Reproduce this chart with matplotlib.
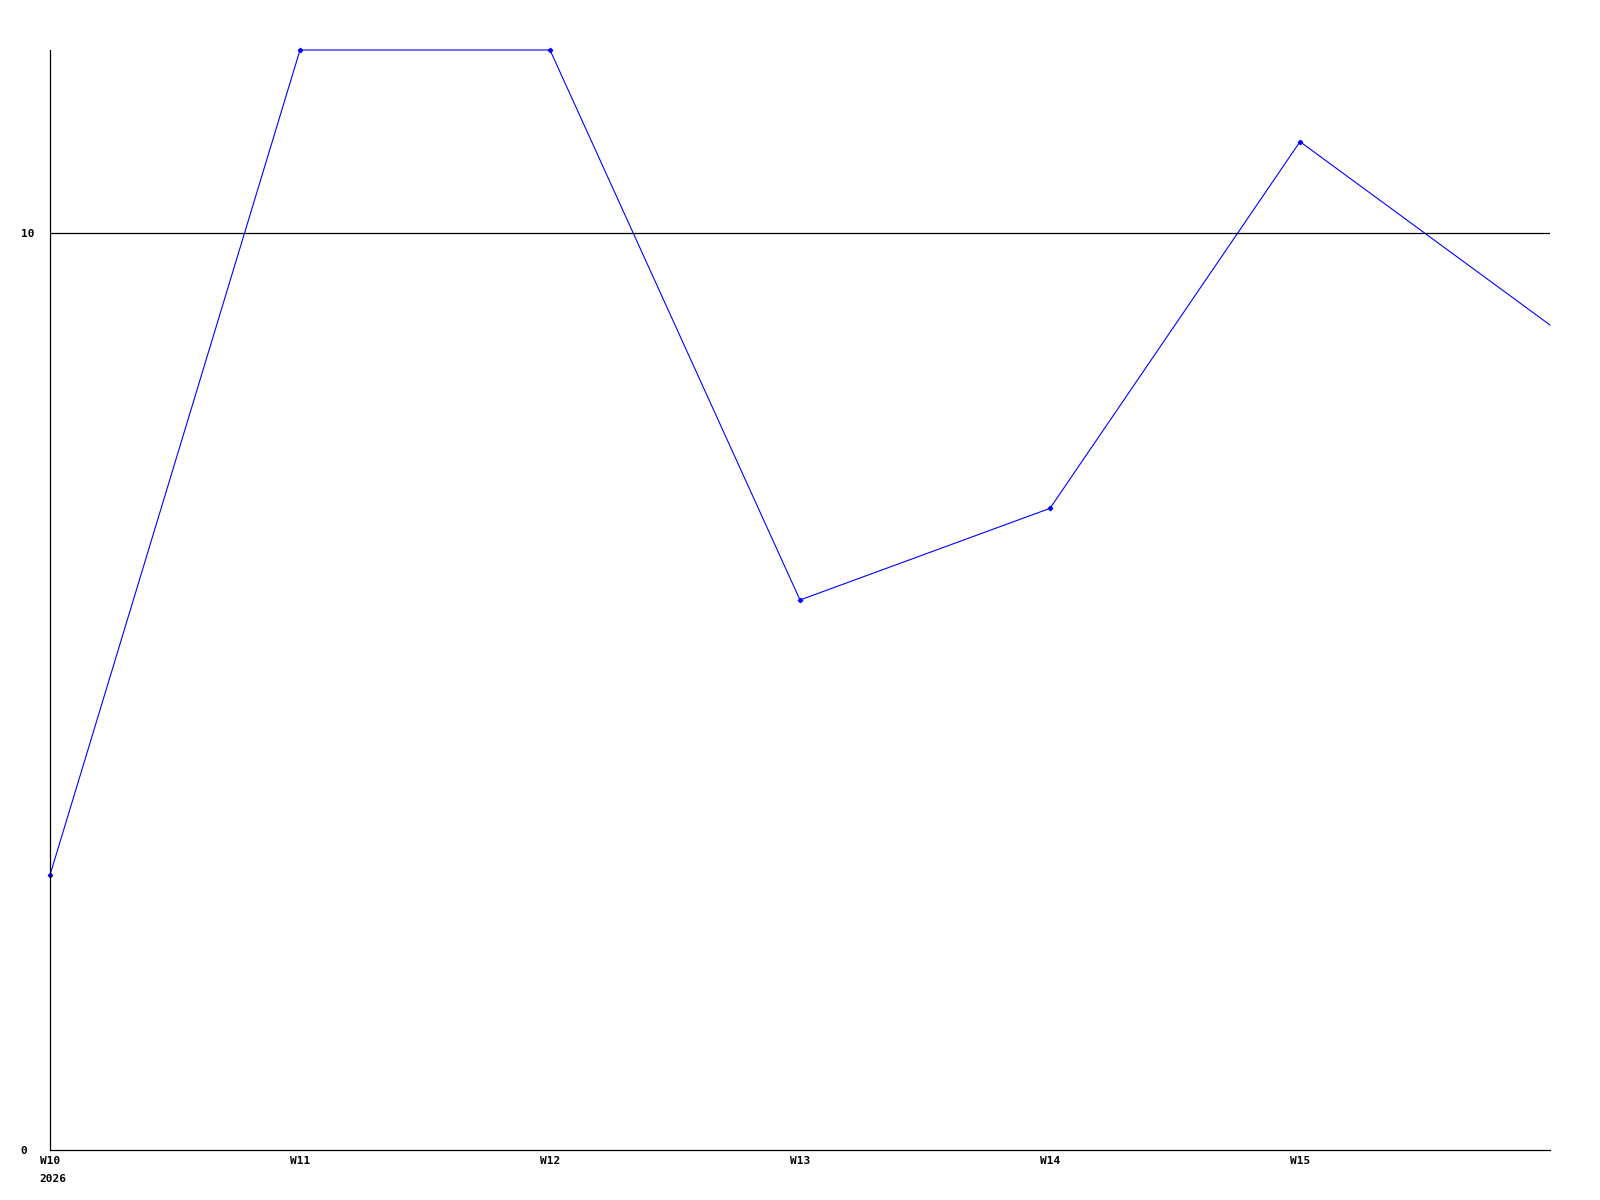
import matplotlib
matplotlib.use('Agg')
import matplotlib.pyplot as plt

weeks = ['W10', 'W11', 'W12', 'W13', 'W14', 'W15', 'W16']
values = [3, 12, 12, 6, 7, 11, 9]
year_label = '2026'
ref_value = 10

fig = plt.figure(figsize=(16, 12), dpi=100)
ax = fig.add_axes([50 / 1600, 50 / 1200, 1500 / 1600, 1100 / 1200])

x = list(range(len(weeks)))
# line runs to the right edge, the last point has no marker
ax.plot(x, values, color='#0000ff', lw=0.8, clip_on=False)
ax.plot(x[:-1], values[:-1], ls='none', color='#0000ff', marker='D', ms=2.2,
        clip_on=False)
ax.axhline(ref_value, color='black', lw=0.9)

ax.set_xlim(0, len(weeks) - 1)
ax.set_ylim(0, 12)

font = dict(family='DejaVu Sans Mono', weight='bold', size=8)
ax.set_xticks(x[:-1])
ax.set_xticklabels(weeks[:-1], **font)
ax.set_yticks([0, ref_value])
ax.set_yticklabels(['0', str(ref_value)], ha='left', **font)
ax.tick_params(axis='both', length=0)
ax.tick_params(axis='y', pad=21)
ax.tick_params(axis='x', pad=4)
ax.annotate(year_label, xy=(0, 0), xycoords='data', xytext=(-8, -17),
            textcoords='offset points', ha='left', va='top', **font)

for s in ['top', 'right']:
    ax.spines[s].set_visible(False)
for s in ['left', 'bottom']:
    ax.spines[s].set_linewidth(0.9)

fig.savefig('out.png', dpi=100)
